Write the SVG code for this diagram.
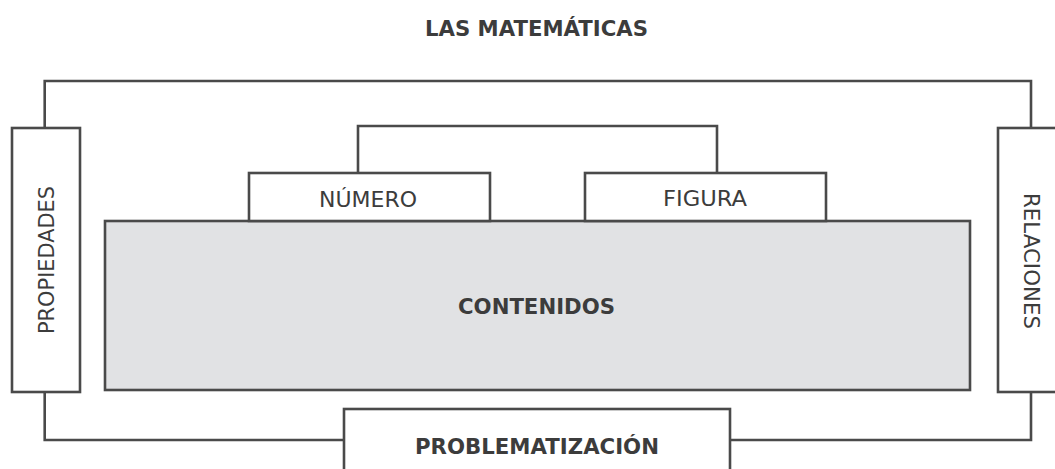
<svg xmlns="http://www.w3.org/2000/svg" width="1055" height="469" viewBox="0 0 1055 469">
<style>
.box{fill:#ffffff;stroke:#4a4a4a;stroke-width:2.6}
.gray{fill:#e1e2e4;stroke:#4a4a4a;stroke-width:2.6}
.line{fill:none;stroke:#4a4a4a;stroke-width:2.6}
text{font-family:'DejaVu Sans',sans-serif;fill:#3c3c3c;text-anchor:middle}
.reg{font-size:21.5px}
.bold{font-size:22px;font-weight:bold}
</style>
<rect width="1055" height="469" fill="#ffffff"/>
<g id="connectors">
<path class="line" d="M44.7,128 V81 H1031 V128"/>
<path class="line" d="M44.7,392 V440 H344"/>
<path class="line" d="M730,440 H1031 V392"/>
<path class="line" d="M358,173 V126 H717 V173"/>
</g>
<text id="title" class="bold" x="536.5" y="36" textLength="223" lengthAdjust="spacingAndGlyphs">LAS MATEMÁTICAS</text>
<g id="propiedades">
<rect class="box" x="12" y="128" width="68" height="264"/>
<text class="reg" transform="translate(53.5 260) rotate(-90)" x="0" y="0" textLength="148" lengthAdjust="spacingAndGlyphs">PROPIEDADES</text>
</g>
<g id="relaciones">
<rect class="box" x="998" y="128" width="70" height="264"/>
<text class="reg" transform="translate(1023.5 261) rotate(90)" x="0" y="0" textLength="136" lengthAdjust="spacingAndGlyphs">RELACIONES</text>
</g>
<g id="contenidos">
<rect class="gray" x="105" y="221" width="865" height="169"/>
<text class="bold" x="536.5" y="314" textLength="157" lengthAdjust="spacingAndGlyphs">CONTENIDOS</text>
</g>
<g id="numero">
<rect class="box" x="249" y="173" width="241" height="48"/>
<text class="reg" x="368" y="207" textLength="98" lengthAdjust="spacingAndGlyphs">NÚMERO</text>
</g>
<g id="figura">
<rect class="box" x="585" y="173" width="241" height="48"/>
<text class="reg" x="705" y="206" textLength="84" lengthAdjust="spacingAndGlyphs">FIGURA</text>
</g>
<g id="problematizacion">
<rect class="box" x="344" y="409" width="386" height="80"/>
<text class="bold" x="537" y="454" textLength="244" lengthAdjust="spacingAndGlyphs">PROBLEMATIZACIÓN</text>
</g>
</svg>
